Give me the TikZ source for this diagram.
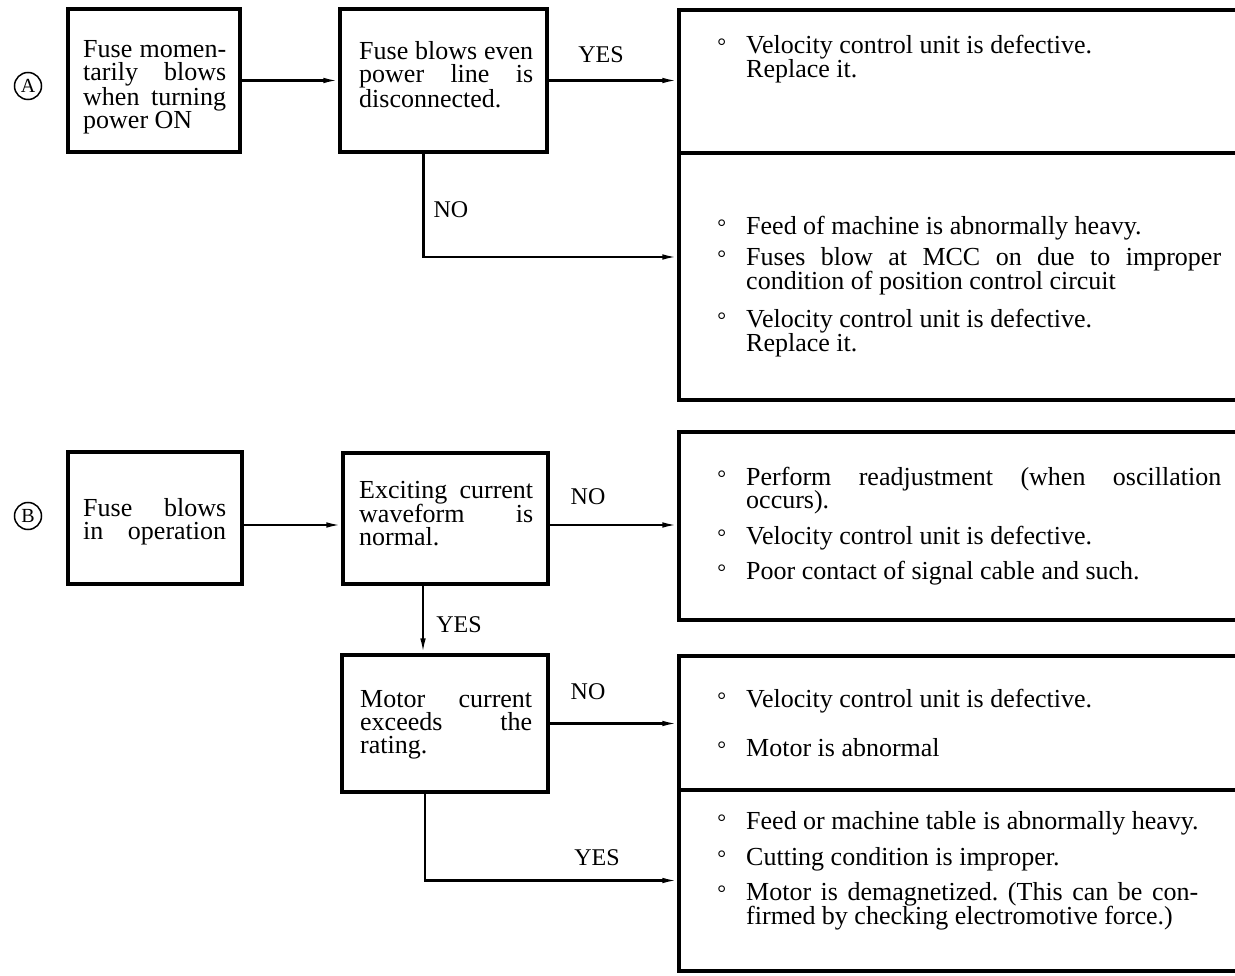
\documentclass[tikz,border=0pt]{standalone}
\usepackage{fontspec}
\setmainfont{Liberation Serif}
\usetikzlibrary{arrows.meta,calc}
\setlength{\lineskiplimit}{-20pt}
\frenchspacing
\hyphenpenalty=10000
\newcommand\bul{\leavevmode\llap{{\fontsize{22}{22}\selectfont\textdegree}\hspace{20pt}}}

\begin{document}
\begin{tikzpicture}[x=1pt,y=1pt,yscale=-1,
    box/.style={draw, line width=3.2pt, inner sep=0pt},
    txt/.style={anchor=base west, inner sep=0pt, align=justify, font=\fontsize{26}{23}\selectfont},
    cause/.style={txt, font=\fontsize{26}{24}\selectfont},
    lab/.style={inner sep=0pt, font=\fontsize{24}{24}\selectfont},
    tag/.style={draw, circle, line width=1.5pt, minimum size=27pt, inner sep=0pt, font=\fontsize{20}{20}\selectfont},
    arr/.style={line width=2.1pt, -{Latex[length=15pt,width=5.5pt]}}]
\useasboundingbox (0,0) rectangle (1235,976);
\clip (0,0) rectangle (1235,976);

% case A
\node[tag] (ta) at (28,86) {A};
\node[box, minimum width=172, minimum height=143] (a1) at (154,80.5) {};
\node[box, minimum width=207, minimum height=143] (a2) at (443.5,80.5) {};
\node[box, minimum width=621, minimum height=143] (ra1) at (989.5,81.5) {};
\node[box, minimum width=621, minimum height=247] (ra2) at (989.5,276.5) {};

\node[txt, text width=143] (a1t) at (83,58) {Fuse momen-\linebreak tarily blows\linebreak when turning\linebreak power ON};
\node[txt, text width=174] (a2t) at (359,60) {Fuse blows even\linebreak power line is\linebreak disconnected.};

\node[cause, text width=475] (c1) at (746,54) {\bul Velocity control unit is defective.\\Replace it.};
\node[cause, text width=475] (c2) at (746,235) {\bul Feed of machine is abnormally heavy.};
\node[cause, text width=475] (c3) at (746,266) {\bul Fuses blow at MCC on due to improper\linebreak condition of position control circuit};
\node[cause, text width=475] (c4) at (746,328) {\bul Velocity control unit is defective.\\Replace it.};

\node[lab] (ya) at (601,55) {YES};
\node[lab] (na) at (451,210) {NO};

\draw[arr] (a1) -- (a2);
\draw[arr] (a2.east) -- (a2.east -| ra1.west);
\draw[arr] ($(a2.south)+(-20,0)$) |- ($(ra2.west)+(0,-19.5)$);

% case B
\node[tag] (tb) at (28,516) {B};
\node[box, minimum width=174, minimum height=132] (b1) at (155,518) {};
\node[box, minimum width=205, minimum height=131] (b2) at (445.5,518.5) {};
\node[box, minimum width=206, minimum height=137] (b3) at (445,723.5) {};
\node[box, minimum width=621, minimum height=188] (rb1) at (989.5,526) {};
\node[box, minimum width=621, minimum height=134] (rb2) at (989.5,723) {};
\node[box, minimum width=621, minimum height=181] (rb3) at (989.5,880.5) {};

\node[txt, text width=143] (b1t) at (83,516) {Fuse blows\linebreak in\hfill operation};
\node[txt, text width=174] (b2t) at (359,498) {Exciting current\linebreak waveform is\linebreak normal.};
\node[txt, text width=172] (b3t) at (360,707) {Motor current\linebreak exceeds the\linebreak rating.};

\node[cause, text width=475] (d1) at (746,485) {\bul Perform readjustment (when oscillation\linebreak occurs).};
\node[cause, text width=475] (d2) at (746,544) {\bul Velocity control unit is defective.};
\node[cause, text width=475] (d3) at (746,579) {\bul Poor contact of signal cable and such.};
\node[cause, text width=475] (e1) at (746,707) {\bul Velocity control unit is defective.};
\node[cause, text width=475] (e2) at (746,756) {\bul Motor is abnormal};
\node[cause, text width=475] (f1) at (746,829) {\bul Feed or machine table is abnormally heavy.};
\node[cause, text width=475] (f2) at (746,865) {\bul Cutting condition is improper.};
\node[cause, text width=452] (f3) at (746,900) {\bul Motor is demagnetized. (This can be con-\linebreak firmed by checking electromotive force.)};

\node[lab] (nb1) at (588,497) {NO};
\node[lab] (yb1) at (459,625) {YES};
\node[lab] (nb2) at (588,692) {NO};
\node[lab] (yb2) at (597,858) {YES};

\draw[arr] ($(b1.east)+(0,7)$) -- ($(b2.west)+(0,6.5)$);
\draw[arr] ($(b2.east)+(0,6.5)$) -- ($(rb1.west)+(0,-1)$);
\draw[arr] ($(b2.south)+(-22.5,0)$) -- ($(b3.north)+(-22,0)$);
\draw[arr] (b3.east) -- (b3.east -| rb2.west);
\draw[arr] ($(b3.south)+(-20,0)$) |- (rb3.west);
\end{tikzpicture}
\end{document}
